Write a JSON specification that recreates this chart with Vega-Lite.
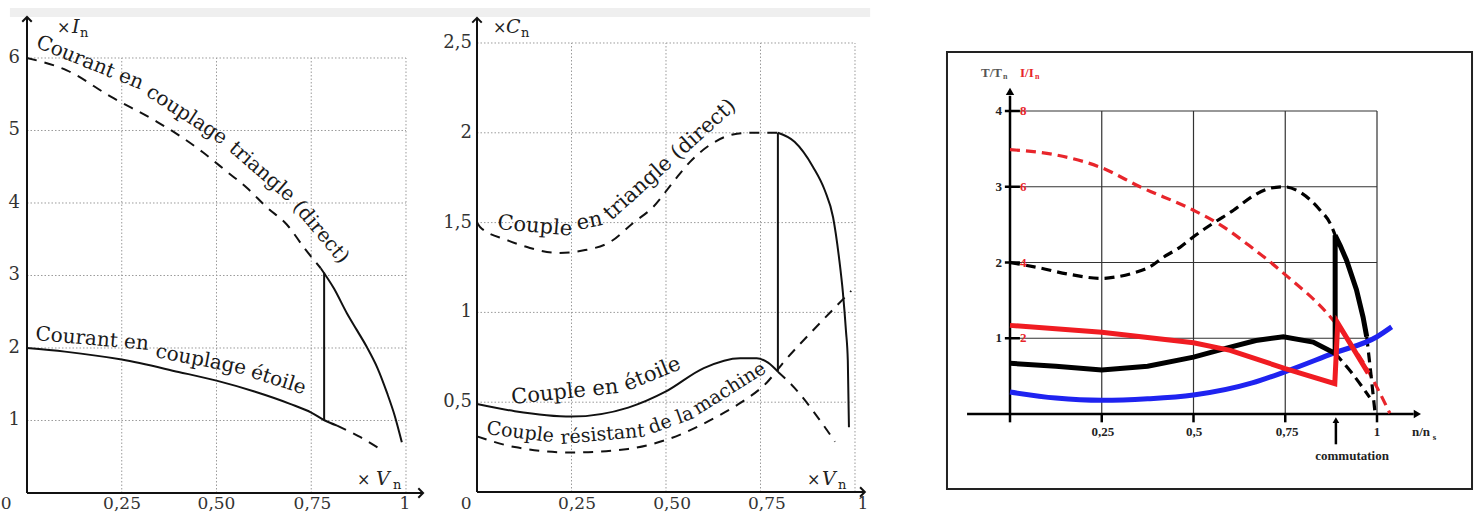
{
  "$schema": "https://vega.github.io/schema/vega-lite/v6.json",
  "padding": 0,
  "background": "white",
  "bounds": "flush",
  "spacing": 0,
  "config": {"view": {"stroke": null}, "text": {"font": "DejaVu Serif"}},
  "datasets": {
    "A_lines": [
      {"s":"tri_dash","i":0,"x":0,"y":6.0},{"s":"tri_dash","i":1,"x":0.105,"y":5.83},{"s":"tri_dash","i":2,"x":0.22,"y":5.47},{"s":"tri_dash","i":3,"x":0.343,"y":5.12},{"s":"tri_dash","i":4,"x":0.396,"y":4.95},{"s":"tri_dash","i":5,"x":0.464,"y":4.70},{"s":"tri_dash","i":6,"x":0.528,"y":4.43},{"s":"tri_dash","i":7,"x":0.58,"y":4.21},{"s":"tri_dash","i":8,"x":0.633,"y":3.94},{"s":"tri_dash","i":9,"x":0.686,"y":3.70},{"s":"tri_dash","i":10,"x":0.733,"y":3.37},{"s":"tri_dash","i":11,"x":0.775,"y":3.1},
      {"s":"tri_solid","i":0,"x":0.775,"y":3.1},{"s":"tri_solid","i":1,"x":0.81,"y":2.82},{"s":"tri_solid","i":2,"x":0.844,"y":2.48},{"s":"tri_solid","i":3,"x":0.87,"y":2.25},{"s":"tri_solid","i":4,"x":0.897,"y":2.01},{"s":"tri_solid","i":5,"x":0.925,"y":1.72},{"s":"tri_solid","i":6,"x":0.95,"y":1.38},{"s":"tri_solid","i":7,"x":0.97,"y":1.07},{"s":"tri_solid","i":8,"x":0.989,"y":0.70},
      {"s":"vert","i":0,"x":0.784,"y":3.04},{"s":"vert","i":1,"x":0.784,"y":1.0},
      {"s":"etoile_solid","i":0,"x":0,"y":2.0},{"s":"etoile_solid","i":1,"x":0.1,"y":1.95},{"s":"etoile_solid","i":2,"x":0.25,"y":1.84},{"s":"etoile_solid","i":3,"x":0.4,"y":1.67},{"s":"etoile_solid","i":4,"x":0.5,"y":1.55},{"s":"etoile_solid","i":5,"x":0.6,"y":1.4},{"s":"etoile_solid","i":6,"x":0.694,"y":1.23},{"s":"etoile_solid","i":7,"x":0.75,"y":1.11},{"s":"etoile_solid","i":8,"x":0.786,"y":1.0},{"s":"etoile_solid","i":9,"x":0.818,"y":0.93},
      {"s":"etoile_dash","i":0,"x":0.818,"y":0.93},{"s":"etoile_dash","i":1,"x":0.88,"y":0.77},{"s":"etoile_dash","i":2,"x":0.937,"y":0.59}
    ],
    "A_grid": [
      {"x":0.25,"y":0,"x2":0.25,"y2":6},{"x":0.5,"y":0,"x2":0.5,"y2":6},{"x":0.75,"y":0,"x2":0.75,"y2":6},{"x":1,"y":0,"x2":1,"y2":6},
      {"x":0,"y":1,"x2":1,"y2":1},{"x":0,"y":2,"x2":1,"y2":2},{"x":0,"y":3,"x2":1,"y2":3},{"x":0,"y":4,"x2":1,"y2":4},{"x":0,"y":5,"x2":1,"y2":5},{"x":0,"y":6,"x2":1,"y2":6}
    ],
    "A_axes": [{"x":0,"y":0,"x2":0,"y2":6.56},{"x":0,"y":0,"x2":1.044,"y2":0}],
    "B_lines": [
      {"s":"tri_dash","i":0,"x":0,"y":1.5},{"s":"tri_dash","i":1,"x":0.008,"y":1.476},{"s":"tri_dash","i":2,"x":0.079,"y":1.403},{"s":"tri_dash","i":3,"x":0.14,"y":1.359},{"s":"tri_dash","i":4,"x":0.214,"y":1.331},{"s":"tri_dash","i":5,"x":0.286,"y":1.347},{"s":"tri_dash","i":6,"x":0.352,"y":1.392},{"s":"tri_dash","i":7,"x":0.413,"y":1.498},{"s":"tri_dash","i":8,"x":0.466,"y":1.587},{"s":"tri_dash","i":9,"x":0.519,"y":1.726},{"s":"tri_dash","i":10,"x":0.563,"y":1.837},{"s":"tri_dash","i":11,"x":0.624,"y":1.943},{"s":"tri_dash","i":12,"x":0.688,"y":1.995},{"s":"tri_dash","i":13,"x":0.73,"y":2.0},{"s":"tri_dash","i":14,"x":0.796,"y":2.0},
      {"s":"tri_solid","i":0,"x":0.796,"y":2.0},{"s":"tri_solid","i":1,"x":0.84,"y":1.95},{"s":"tri_solid","i":2,"x":0.889,"y":1.81},{"s":"tri_solid","i":3,"x":0.92,"y":1.68},{"s":"tri_solid","i":4,"x":0.942,"y":1.53},{"s":"tri_solid","i":5,"x":0.958,"y":1.3},{"s":"tri_solid","i":6,"x":0.968,"y":1.11},{"s":"tri_solid","i":7,"x":0.976,"y":0.9},{"s":"tri_solid","i":8,"x":0.981,"y":0.73},{"s":"tri_solid","i":9,"x":0.984,"y":0.36},
      {"s":"vert","i":0,"x":0.796,"y":2.0},{"s":"vert","i":1,"x":0.796,"y":0.67},
      {"s":"etoile_solid","i":0,"x":0,"y":0.49},{"s":"etoile_solid","i":1,"x":0.1,"y":0.45},{"s":"etoile_solid","i":2,"x":0.25,"y":0.42},{"s":"etoile_solid","i":3,"x":0.4,"y":0.47},{"s":"etoile_solid","i":4,"x":0.5,"y":0.56},{"s":"etoile_solid","i":5,"x":0.6,"y":0.69},{"s":"etoile_solid","i":6,"x":0.696,"y":0.745},{"s":"etoile_solid","i":7,"x":0.74,"y":0.745},{"s":"etoile_solid","i":8,"x":0.77,"y":0.72},{"s":"etoile_solid","i":9,"x":0.796,"y":0.67},
      {"s":"etoile_dash","i":0,"x":0.796,"y":0.67},{"s":"etoile_dash","i":1,"x":0.84,"y":0.58},{"s":"etoile_dash","i":2,"x":0.9,"y":0.42},{"s":"etoile_dash","i":3,"x":0.947,"y":0.28},
      {"s":"res_dash","i":0,"x":0,"y":0.31},{"s":"res_dash","i":1,"x":0.1,"y":0.25},{"s":"res_dash","i":2,"x":0.25,"y":0.22},{"s":"res_dash","i":3,"x":0.4,"y":0.24},{"s":"res_dash","i":4,"x":0.5,"y":0.29},{"s":"res_dash","i":5,"x":0.635,"y":0.42},{"s":"res_dash","i":6,"x":0.7,"y":0.5},{"s":"res_dash","i":7,"x":0.767,"y":0.61},{"s":"res_dash","i":8,"x":0.81,"y":0.72},{"s":"res_dash","i":9,"x":0.907,"y":0.94},{"s":"res_dash","i":10,"x":0.99,"y":1.12}
    ],
    "B_grid": [
      {"x":0.25,"y":0,"x2":0.25,"y2":2.5},{"x":0.5,"y":0,"x2":0.5,"y2":2.5},{"x":0.75,"y":0,"x2":0.75,"y2":2.5},{"x":1,"y":0,"x2":1,"y2":2.5},
      {"x":0,"y":0.5,"x2":1,"y2":0.5},{"x":0,"y":1,"x2":1,"y2":1},{"x":0,"y":1.5,"x2":1,"y2":1.5},{"x":0,"y":2,"x2":1,"y2":2},{"x":0,"y":2.5,"x2":1,"y2":2.5}
    ],
    "B_axes": [{"x":0,"y":0,"x2":0,"y2":2.635},{"x":0,"y":0,"x2":1.025,"y2":0}],
    "C_lines": [
      {"s":"red_dash","i":0,"x":0,"y":3.49},{"s":"red_dash","i":1,"x":0.125,"y":3.42},{"s":"red_dash","i":2,"x":0.25,"y":3.25},{"s":"red_dash","i":3,"x":0.354,"y":3.0},{"s":"red_dash","i":4,"x":0.5,"y":2.69},{"s":"red_dash","i":5,"x":0.572,"y":2.5},{"s":"red_dash","i":6,"x":0.65,"y":2.23},{"s":"red_dash","i":7,"x":0.745,"y":1.86},{"s":"red_dash","i":8,"x":0.88,"y":1.24},{"s":"red_dash","i":9,"x":0.97,"y":0.62},{"s":"red_dash","i":10,"x":1.035,"y":0.01},
      {"s":"black_dash","i":0,"x":0,"y":2.0},{"s":"black_dash","i":1,"x":0.08,"y":1.93},{"s":"black_dash","i":2,"x":0.155,"y":1.85},{"s":"black_dash","i":3,"x":0.25,"y":1.79},{"s":"black_dash","i":4,"x":0.29,"y":1.81},{"s":"black_dash","i":5,"x":0.336,"y":1.86},{"s":"black_dash","i":6,"x":0.38,"y":1.94},{"s":"black_dash","i":7,"x":0.418,"y":2.07},{"s":"black_dash","i":8,"x":0.463,"y":2.2},{"s":"black_dash","i":9,"x":0.5,"y":2.34},{"s":"black_dash","i":10,"x":0.554,"y":2.52},{"s":"black_dash","i":11,"x":0.609,"y":2.69},{"s":"black_dash","i":12,"x":0.663,"y":2.88},{"s":"black_dash","i":13,"x":0.708,"y":2.98},{"s":"black_dash","i":14,"x":0.745,"y":3.0},{"s":"black_dash","i":15,"x":0.79,"y":2.93},{"s":"black_dash","i":16,"x":0.845,"y":2.69},{"s":"black_dash","i":17,"x":0.872,"y":2.52},{"s":"black_dash","i":18,"x":0.886,"y":2.36},
      {"s":"black_dash2","i":0,"x":0.972,"y":1.02},{"s":"black_dash2","i":1,"x":0.984,"y":0.5},{"s":"black_dash2","i":2,"x":0.995,"y":0.0},
      {"s":"black_dash3","i":0,"x":0.886,"y":0.8},{"s":"black_dash3","i":1,"x":0.93,"y":0.55},{"s":"black_dash3","i":2,"x":0.98,"y":0.22},
      {"s":"black_solid","i":0,"x":0,"y":0.67},{"s":"black_solid","i":1,"x":0.125,"y":0.63},{"s":"black_solid","i":2,"x":0.25,"y":0.58},{"s":"black_solid","i":3,"x":0.375,"y":0.63},{"s":"black_solid","i":4,"x":0.5,"y":0.75},{"s":"black_solid","i":5,"x":0.59,"y":0.87},{"s":"black_solid","i":6,"x":0.67,"y":0.97},{"s":"black_solid","i":7,"x":0.745,"y":1.02},{"s":"black_solid","i":8,"x":0.826,"y":0.95},{"s":"black_solid","i":9,"x":0.886,"y":0.8},{"s":"black_solid","i":10,"x":0.886,"y":2.36},{"s":"black_solid","i":11,"x":0.9,"y":2.22},{"s":"black_solid","i":12,"x":0.917,"y":2.03},{"s":"black_solid","i":13,"x":0.944,"y":1.64},{"s":"black_solid","i":14,"x":0.962,"y":1.28},{"s":"black_solid","i":15,"x":0.972,"y":1.02},
      {"s":"blue","i":0,"x":0,"y":0.29},{"s":"blue","i":1,"x":0.125,"y":0.21},{"s":"blue","i":2,"x":0.25,"y":0.18},{"s":"blue","i":3,"x":0.375,"y":0.2},{"s":"blue","i":4,"x":0.5,"y":0.25},{"s":"blue","i":5,"x":0.66,"y":0.41},{"s":"blue","i":6,"x":0.745,"y":0.55},{"s":"blue","i":7,"x":0.88,"y":0.8},{"s":"blue","i":8,"x":1.0,"y":1.02},{"s":"blue","i":9,"x":1.04,"y":1.15},
      {"s":"red_solid","i":0,"x":0,"y":1.17},{"s":"red_solid","i":1,"x":0.25,"y":1.08},{"s":"red_solid","i":2,"x":0.5,"y":0.94},{"s":"red_solid","i":3,"x":0.6,"y":0.84},{"s":"red_solid","i":4,"x":0.75,"y":0.6},{"s":"red_solid","i":5,"x":0.885,"y":0.40},{"s":"red_solid","i":6,"x":0.893,"y":1.2},{"s":"red_solid","i":7,"x":0.976,"y":0.54}
    ],
    "C_grid": [
      {"x":0.25,"y":0,"x2":0.25,"y2":4},{"x":0.5,"y":0,"x2":0.5,"y2":4},{"x":0.75,"y":0,"x2":0.75,"y2":4},{"x":1,"y":0,"x2":1,"y2":4},
      {"x":0,"y":1,"x2":1,"y2":1},{"x":0,"y":2,"x2":1,"y2":2},{"x":0,"y":3,"x2":1,"y2":3},{"x":0,"y":4,"x2":1,"y2":4}
    ],
    "C_axes": [
      {"x":-0.117,"y":0,"x2":1.10,"y2":0},{"x":0,"y":0,"x2":0,"y2":4.2},
      {"x":0,"y":0,"x2":0,"y2":-0.11},{"x":0.25,"y":0,"x2":0.25,"y2":-0.11},{"x":0.5,"y":0,"x2":0.5,"y2":-0.11},{"x":0.75,"y":0,"x2":0.75,"y2":-0.11},{"x":1,"y":0,"x2":1,"y2":-0.11},
      {"x":-0.014,"y":1,"x2":0.027,"y2":1},{"x":-0.014,"y":2,"x2":0.027,"y2":2},{"x":-0.014,"y":3,"x2":0.027,"y2":3},{"x":-0.014,"y":4,"x2":0.027,"y2":4},
      {"x":0.888,"y":-0.40,"x2":0.888,"y2":-0.1}
    ]
  },
  "hconcat": [
    {
      "width": 440, "height": 514,
      "encoding": {
        "x": {"field": "x", "type": "quantitative", "scale": {"domain": [-0.07124, 1.08971], "nice": false, "zero": false}, "axis": null},
        "y": {"field": "y", "type": "quantitative", "scale": {"domain": [-0.28966, 6.8], "nice": false, "zero": false}, "axis": null}
      },
      "layer": [
        {"data": {"values": [{"x": -0.045, "x2": 1.0897, "y": 6.69, "y2": 6.566}]}, "mark": {"type": "rect", "color": "#efefef"}, "encoding": {"x2": {"field": "x2"}, "y2": {"field": "y2"}}},
        {"data": {"name": "A_grid"}, "mark": {"type": "rule", "color": "#9a9a9a", "strokeWidth": 1, "strokeDash": [1.5, 2]}, "encoding": {"x2": {"field": "x2"}, "y2": {"field": "y2"}}},
        {"data": {"name": "A_axes"}, "mark": {"type": "rule", "color": "#111", "strokeWidth": 2}, "encoding": {"x2": {"field": "x2"}, "y2": {"field": "y2"}}},
        {"data": {"values": [{"x": 0, "y": 6.566}]}, "mark": {"type": "point", "shape": "M-1,1L0,0L1,1", "filled": false, "stroke": "#111", "strokeWidth": 2, "size": 90, "opacity": 1}, "encoding": {}},
        {"data": {"values": [{"x": 1.045, "y": 0}]}, "mark": {"type": "point", "shape": "M-1,-1L0,0L-1,1", "filled": false, "stroke": "#111", "strokeWidth": 2, "size": 90, "opacity": 1}, "encoding": {}},
        {"data": {"name": "A_lines"}, "transform": [{"filter": "datum.s == 'tri_dash' || datum.s == 'etoile_dash'"}], "mark": {"type": "line", "color": "#111", "strokeWidth": 2, "strokeDash": [10, 8], "interpolate": "monotone"}, "encoding": {"order": {"field": "i", "type": "quantitative"}, "detail": {"field": "s"}}},
        {"data": {"name": "A_lines"}, "transform": [{"filter": "datum.s == 'tri_solid' || datum.s == 'etoile_solid'"}], "mark": {"type": "line", "color": "#111", "strokeWidth": 2, "interpolate": "monotone"}, "encoding": {"order": {"field": "i", "type": "quantitative"}, "detail": {"field": "s"}}},
        {"data": {"name": "A_lines"}, "transform": [{"filter": "datum.s == 'vert'"}], "mark": {"type": "line", "color": "#111", "strokeWidth": 2}, "encoding": {"order": {"field": "i", "type": "quantitative"}}},
        {"data": {"values": [{"x": -0.0185, "y": 1, "t": "1"}, {"x": -0.0185, "y": 2, "t": "2"}, {"x": -0.0185, "y": 3, "t": "3"}, {"x": -0.0185, "y": 4, "t": "4"}, {"x": -0.0185, "y": 5, "t": "5"}, {"x": -0.0185, "y": 6, "t": "6"}]}, "mark": {"type": "text", "align": "right", "baseline": "middle", "fontSize": 18, "color": "#333"}, "encoding": {"text": {"field": "t"}}},
        {"data": {"values": [{"x": -0.055, "y": -0.2759, "t": "0"}, {"x": 0.2507, "y": -0.2759, "t": "0,25"}, {"x": 0.5, "y": -0.2759, "t": "0,50"}, {"x": 0.7533, "y": -0.2759, "t": "0,75"}, {"x": 0.9974, "y": -0.2759, "t": "1"}]}, "mark": {"type": "text", "align": "center", "baseline": "bottom", "fontSize": 17, "color": "#333"}, "encoding": {"text": {"field": "t"}}},
        {"data": {"values": [{"x": 0.079, "y": 6.345, "t": "×"}, {"x": 0.871, "y": 0.11, "t": "×"}]}, "mark": {"type": "text", "align": "left", "baseline": "alphabetic", "fontSize": 16, "color": "#222"}, "encoding": {"text": {"field": "t"}}},
        {"data": {"values": [{"x": 0.1187, "y": 6.345, "t": "I"}, {"x": 0.921, "y": 0.11, "t": "V"}]}, "mark": {"type": "text", "align": "left", "baseline": "alphabetic", "fontSize": 19, "fontStyle": "italic", "color": "#222"}, "encoding": {"text": {"field": "t"}}},
        {"data": {"values": [{"x": 0.1398, "y": 6.29, "t": "n"}, {"x": 0.966, "y": 0.055, "t": "n"}]}, "mark": {"type": "text", "align": "left", "baseline": "alphabetic", "fontSize": 13, "color": "#222"}, "encoding": {"text": {"field": "t"}}},
        {"data": {"values": [{"x": 0.021, "y": 6.152, "t": "Courant en"}]}, "mark": {"type": "text", "angle": 22, "align": "left", "baseline": "alphabetic", "fontSize": 20, "color": "#1a1a1a"}, "encoding": {"text": {"field": "t"}}},
        {"data": {"values": [{"x": 0.3113, "y": 5.49, "t": "couplage"}]}, "mark": {"type": "text", "angle": 33, "align": "left", "baseline": "alphabetic", "fontSize": 20, "color": "#1a1a1a"}, "encoding": {"text": {"field": "t"}}},
        {"data": {"values": [{"x": 0.5303, "y": 4.731, "t": "triangle"}]}, "mark": {"type": "text", "angle": 41, "align": "left", "baseline": "alphabetic", "fontSize": 20, "color": "#1a1a1a"}, "encoding": {"text": {"field": "t"}}},
        {"data": {"values": [{"x": 0.6992, "y": 3.945, "t": "(direct)"}]}, "mark": {"type": "text", "angle": 50, "align": "left", "baseline": "alphabetic", "fontSize": 20, "color": "#1a1a1a"}, "encoding": {"text": {"field": "t"}}},
        {"data": {"values": [{"x": 0.021, "y": 2.11, "t": "Courant en"}]}, "mark": {"type": "text", "angle": 5, "align": "left", "baseline": "alphabetic", "fontSize": 20, "color": "#1a1a1a"}, "encoding": {"text": {"field": "t"}}},
        {"data": {"values": [{"x": 0.337, "y": 1.876, "t": "couplage"}]}, "mark": {"type": "text", "angle": 11, "align": "left", "baseline": "alphabetic", "fontSize": 20, "color": "#1a1a1a"}, "encoding": {"text": {"field": "t"}}},
        {"data": {"values": [{"x": 0.588, "y": 1.6, "t": "étoile"}]}, "mark": {"type": "text", "angle": 18, "align": "left", "baseline": "alphabetic", "fontSize": 20, "color": "#1a1a1a"}, "encoding": {"text": {"field": "t"}}}
      ]
    },
    {
      "width": 460, "height": 514,
      "encoding": {
        "x": {"field": "x", "type": "quantitative", "scale": {"domain": [-0.09788, 1.11905], "nice": false, "zero": false}, "axis": null},
        "y": {"field": "y", "type": "quantitative", "scale": {"domain": [-0.12249, 2.73942], "nice": false, "zero": false}, "axis": null}
      },
      "layer": [
        {"data": {"values": [{"x": -0.098, "x2": 1.04, "y": 2.695, "y2": 2.645}]}, "mark": {"type": "rect", "color": "#efefef"}, "encoding": {"x2": {"field": "x2"}, "y2": {"field": "y2"}}},
        {"data": {"name": "B_grid"}, "mark": {"type": "rule", "color": "#9a9a9a", "strokeWidth": 1, "strokeDash": [1.5, 2]}, "encoding": {"x2": {"field": "x2"}, "y2": {"field": "y2"}}},
        {"data": {"name": "B_axes"}, "mark": {"type": "rule", "color": "#111", "strokeWidth": 2}, "encoding": {"x2": {"field": "x2"}, "y2": {"field": "y2"}}},
        {"data": {"values": [{"x": 0, "y": 2.64}]}, "mark": {"type": "point", "shape": "M-1,1L0,0L1,1", "filled": false, "stroke": "#111", "strokeWidth": 2, "size": 90, "opacity": 1}, "encoding": {}},
        {"data": {"values": [{"x": 1.026, "y": 0}]}, "mark": {"type": "point", "shape": "M-1,-1L0,0L-1,1", "filled": false, "stroke": "#111", "strokeWidth": 2, "size": 90, "opacity": 1}, "encoding": {}},
        {"data": {"name": "B_lines"}, "transform": [{"filter": "datum.s == 'tri_dash' || datum.s == 'etoile_dash' || datum.s == 'res_dash'"}], "mark": {"type": "line", "color": "#111", "strokeWidth": 2, "strokeDash": [10, 8], "interpolate": "monotone"}, "encoding": {"order": {"field": "i", "type": "quantitative"}, "detail": {"field": "s"}}},
        {"data": {"name": "B_lines"}, "transform": [{"filter": "datum.s == 'tri_solid' || datum.s == 'etoile_solid'"}], "mark": {"type": "line", "color": "#111", "strokeWidth": 2, "interpolate": "monotone"}, "encoding": {"order": {"field": "i", "type": "quantitative"}, "detail": {"field": "s"}}},
        {"data": {"name": "B_lines"}, "transform": [{"filter": "datum.s == 'vert'"}], "mark": {"type": "line", "color": "#111", "strokeWidth": 2}, "encoding": {"order": {"field": "i", "type": "quantitative"}}},
        {"data": {"values": [{"x": -0.0132, "y": 0.5, "t": "0,5"}, {"x": -0.0132, "y": 1, "t": "1"}, {"x": -0.0132, "y": 1.5, "t": "1,5"}, {"x": -0.0132, "y": 2, "t": "2"}, {"x": -0.0132, "y": 2.5, "t": "2,5"}]}, "mark": {"type": "text", "align": "right", "baseline": "middle", "fontSize": 18, "color": "#333"}, "encoding": {"text": {"field": "t"}}},
        {"data": {"values": [{"x": -0.029, "y": -0.1169, "t": "0"}, {"x": 0.2646, "y": -0.1169, "t": "0,25"}, {"x": 0.516, "y": -0.1169, "t": "0,50"}, {"x": 0.767, "y": -0.1169, "t": "0,75"}, {"x": 1.021, "y": -0.1169, "t": "1"}]}, "mark": {"type": "text", "align": "center", "baseline": "bottom", "fontSize": 17, "color": "#333"}, "encoding": {"text": {"field": "t"}}},
        {"data": {"values": [{"x": 0.0423, "y": 2.5557, "t": "×"}, {"x": 0.873, "y": 0.039, "t": "×"}]}, "mark": {"type": "text", "align": "left", "baseline": "alphabetic", "fontSize": 16, "color": "#222"}, "encoding": {"text": {"field": "t"}}},
        {"data": {"values": [{"x": 0.0767, "y": 2.5557, "t": "C"}, {"x": 0.9127, "y": 0.039, "t": "V"}]}, "mark": {"type": "text", "align": "left", "baseline": "alphabetic", "fontSize": 19, "fontStyle": "italic", "color": "#222"}, "encoding": {"text": {"field": "t"}}},
        {"data": {"values": [{"x": 0.1164, "y": 2.5334, "t": "n"}, {"x": 0.955, "y": 0.0167, "t": "n"}]}, "mark": {"type": "text", "align": "left", "baseline": "alphabetic", "fontSize": 13, "color": "#222"}, "encoding": {"text": {"field": "t"}}},
        {"data": {"values": [{"x": 0.0529, "y": 1.464, "t": "Couple"}]}, "mark": {"type": "text", "angle": 5, "align": "left", "baseline": "alphabetic", "fontSize": 21, "color": "#1a1a1a"}, "encoding": {"text": {"field": "t"}}},
        {"data": {"values": [{"x": 0.2672, "y": 1.4588, "t": "en"}]}, "mark": {"type": "text", "angle": 348, "align": "left", "baseline": "alphabetic", "fontSize": 21, "color": "#1a1a1a"}, "encoding": {"text": {"field": "t"}}},
        {"data": {"values": [{"x": 0.3545, "y": 1.509, "t": "triangle (direct)"}]}, "mark": {"type": "text", "angle": 318, "align": "left", "baseline": "alphabetic", "fontSize": 21, "color": "#1a1a1a"}, "encoding": {"text": {"field": "t"}}},
        {"data": {"values": [{"x": 0.0926, "y": 0.49, "t": "Couple en"}]}, "mark": {"type": "text", "angle": 354, "align": "left", "baseline": "alphabetic", "fontSize": 21, "color": "#1a1a1a"}, "encoding": {"text": {"field": "t"}}},
        {"data": {"values": [{"x": 0.397, "y": 0.563, "t": "étoile"}]}, "mark": {"type": "text", "angle": 338, "align": "left", "baseline": "alphabetic", "fontSize": 21, "color": "#1a1a1a"}, "encoding": {"text": {"field": "t"}}},
        {"data": {"values": [{"x": 0.0238, "y": 0.323, "t": "Couple"}]}, "mark": {"type": "text", "angle": 7, "align": "left", "baseline": "alphabetic", "fontSize": 19, "color": "#1a1a1a"}, "encoding": {"text": {"field": "t"}}},
        {"data": {"values": [{"x": 0.2222, "y": 0.2673, "t": "résistant"}]}, "mark": {"type": "text", "angle": 355, "align": "left", "baseline": "alphabetic", "fontSize": 19, "color": "#1a1a1a"}, "encoding": {"text": {"field": "t"}}},
        {"data": {"values": [{"x": 0.4603, "y": 0.3229, "t": "de la"}]}, "mark": {"type": "text", "angle": 340, "align": "left", "baseline": "alphabetic", "fontSize": 19, "color": "#1a1a1a"}, "encoding": {"text": {"field": "t"}}},
        {"data": {"values": [{"x": 0.5847, "y": 0.4287, "t": "machine"}]}, "mark": {"type": "text", "angle": 328, "align": "left", "baseline": "alphabetic", "fontSize": 19, "color": "#1a1a1a"}, "encoding": {"text": {"field": "t"}}}
      ]
    },
    {
      "width": 576, "height": 514,
      "encoding": {
        "x": {"field": "x", "type": "quantitative", "scale": {"domain": [-0.29973, 1.26975], "nice": false, "zero": false}, "axis": null},
        "y": {"field": "y", "type": "quantitative", "scale": {"domain": [-1.32013, 5.46535], "nice": false, "zero": false}, "axis": null}
      },
      "layer": [
        {"data": {"values": [{"x": -0.1717, "x2": 1.2589, "y": -0.99, "y2": 4.779}]}, "mark": {"type": "rect", "fillOpacity": 0, "stroke": "#222", "strokeWidth": 2}, "encoding": {"x2": {"field": "x2"}, "y2": {"field": "y2"}}},
        {"data": {"name": "C_grid"}, "mark": {"type": "rule", "color": "#333", "strokeWidth": 1.2}, "encoding": {"x2": {"field": "x2"}, "y2": {"field": "y2"}}},
        {"data": {"name": "C_axes"}, "mark": {"type": "rule", "color": "#000", "strokeWidth": 2.5}, "encoding": {"x2": {"field": "x2"}, "y2": {"field": "y2"}}},
        {"data": {"values": [{"x": 0, "y": 4.26}]}, "mark": {"type": "point", "shape": "triangle-up", "filled": true, "color": "#000", "size": 70, "opacity": 1}, "encoding": {}},
        {"data": {"values": [{"x": 1.11, "y": 0}]}, "mark": {"type": "point", "shape": "triangle-right", "filled": true, "color": "#000", "size": 70, "opacity": 1}, "encoding": {}},
        {"data": {"values": [{"x": 0.888, "y": -0.08}]}, "mark": {"type": "point", "shape": "triangle-up", "filled": true, "color": "#000", "size": 45, "opacity": 1}, "encoding": {}},
        {"data": {"name": "C_lines"}, "transform": [{"filter": "datum.s == 'red_dash'"}], "mark": {"type": "line", "color": "#e8252b", "strokeWidth": 3.2, "strokeDash": [10, 6], "interpolate": "monotone"}, "encoding": {"order": {"field": "i", "type": "quantitative"}}},
        {"data": {"name": "C_lines"}, "transform": [{"filter": "datum.s == 'black_dash' || datum.s == 'black_dash2' || datum.s == 'black_dash3'"}], "mark": {"type": "line", "color": "#000", "strokeWidth": 3.2, "strokeDash": [10, 6], "interpolate": "monotone"}, "encoding": {"order": {"field": "i", "type": "quantitative"}, "detail": {"field": "s"}}},
        {"data": {"name": "C_lines"}, "transform": [{"filter": "datum.s == 'blue'"}], "mark": {"type": "line", "color": "#1f23f0", "strokeWidth": 5, "interpolate": "monotone"}, "encoding": {"order": {"field": "i", "type": "quantitative"}}},
        {"data": {"name": "C_lines"}, "transform": [{"filter": "datum.s == 'black_solid'"}], "mark": {"type": "line", "color": "#000", "strokeWidth": 5, "strokeJoin": "miter"}, "encoding": {"order": {"field": "i", "type": "quantitative"}}},
        {"data": {"name": "C_lines"}, "transform": [{"filter": "datum.s == 'red_solid'"}], "mark": {"type": "line", "color": "#f01c22", "strokeWidth": 5, "strokeJoin": "miter"}, "encoding": {"order": {"field": "i", "type": "quantitative"}}},
        {"data": {"values": [{"x": -0.0218, "y": 1, "t": "1"}, {"x": -0.0218, "y": 2, "t": "2"}, {"x": -0.0218, "y": 3, "t": "3"}, {"x": -0.0218, "y": 4, "t": "4"}]}, "mark": {"type": "text", "align": "right", "baseline": "middle", "font": "Liberation Serif", "fontWeight": "bold", "fontSize": 13, "color": "#222"}, "encoding": {"text": {"field": "t"}}},
        {"data": {"values": [{"x": 0.0272, "y": 1, "t": "2"}, {"x": 0.0272, "y": 2, "t": "4"}, {"x": 0.0272, "y": 3, "t": "6"}, {"x": 0.0272, "y": 4, "t": "8"}]}, "mark": {"type": "text", "align": "left", "baseline": "middle", "font": "Liberation Serif", "fontWeight": "bold", "fontSize": 13, "color": "#e8252b"}, "encoding": {"text": {"field": "t"}}},
        {"data": {"values": [{"x": 0.2534, "y": -0.238, "t": "0,25"}, {"x": 0.5014, "y": -0.238, "t": "0,5"}, {"x": 0.755, "y": -0.238, "t": "0,75"}, {"x": 1.0, "y": -0.238, "t": "1"}, {"x": 0.932, "y": -0.554, "t": "commutation"}]}, "mark": {"type": "text", "align": "center", "baseline": "middle", "font": "Liberation Serif", "fontWeight": "bold", "fontSize": 13, "color": "#222"}, "encoding": {"text": {"field": "t"}}},
        {"data": {"values": [{"x": 1.0954, "y": -0.238, "t": "n/n"}]}, "mark": {"type": "text", "align": "left", "baseline": "middle", "font": "Liberation Serif", "fontWeight": "bold", "fontSize": 13, "color": "#222"}, "encoding": {"text": {"field": "t"}}},
        {"data": {"values": [{"x": 1.152, "y": -0.3, "t": "s"}]}, "mark": {"type": "text", "align": "left", "baseline": "middle", "font": "Liberation Serif", "fontWeight": "bold", "fontSize": 9, "color": "#222"}, "encoding": {"text": {"field": "t"}}},
        {"data": {"values": [{"x": -0.079, "y": 4.449, "t": "T/T"}]}, "mark": {"type": "text", "align": "left", "baseline": "alphabetic", "font": "Liberation Serif", "fontWeight": "bold", "fontSize": 13, "color": "#555"}, "encoding": {"text": {"field": "t"}}},
        {"data": {"values": [{"x": -0.019, "y": 4.42, "t": "n"}]}, "mark": {"type": "text", "align": "left", "baseline": "alphabetic", "font": "Liberation Serif", "fontWeight": "bold", "fontSize": 8, "color": "#555"}, "encoding": {"text": {"field": "t"}}},
        {"data": {"values": [{"x": 0.0272, "y": 4.449, "t": "I/I"}]}, "mark": {"type": "text", "align": "left", "baseline": "alphabetic", "font": "Liberation Serif", "fontWeight": "bold", "fontSize": 13, "color": "#e8252b"}, "encoding": {"text": {"field": "t"}}},
        {"data": {"values": [{"x": 0.068, "y": 4.42, "t": "n"}]}, "mark": {"type": "text", "align": "left", "baseline": "alphabetic", "font": "Liberation Serif", "fontWeight": "bold", "fontSize": 8, "color": "#e8252b"}, "encoding": {"text": {"field": "t"}}}
      ]
    }
  ]
}
